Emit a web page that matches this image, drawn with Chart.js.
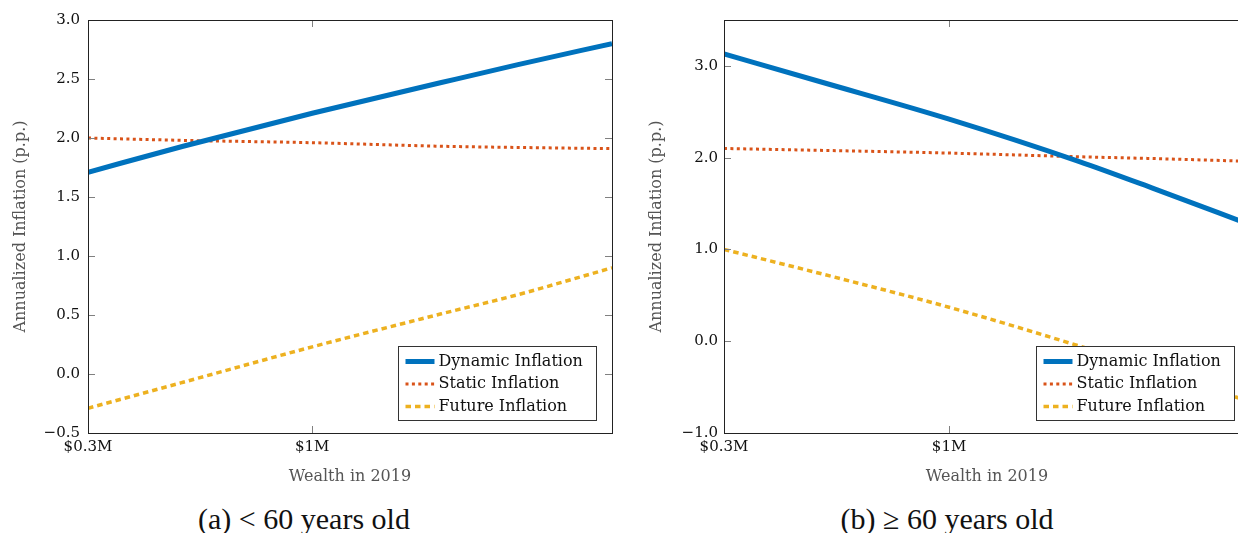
<!DOCTYPE html>
<html>
<head>
<meta charset="utf-8">
<script src="https://cdn.jsdelivr.net/npm/chart.js@4.4.1/dist/chart.umd.min.js"></script>
<style>
  body { margin: 0; width: 1238px; height: 533px; overflow: hidden; background: #fff; position: relative; }
  .panel { position: absolute; top: 0; height: 495px; }
  #young { left: 0; width: 625px; }
  #old { left: 640px; width: 620px; }
  .caption { position: absolute; top: 502px; width: 400px; text-align: center;
             font-family: 'Liberation Serif', serif; font-size: 30px; line-height: 34px; color: #111; }
</style>
</head>
<body>
<div class="panel" id="young"><canvas id="chartYoung"></canvas></div>
<div class="panel" id="old"><canvas id="chartOld"></canvas></div>
<div class="caption" style="left:104px">(a) &lt; 60 years old</div>
<div class="caption" style="left:747px">(b) ≥ 60 years old</div>

<script>
// wealth in 2019, $M (log axis)
const wealth = [0.3, 0.5, 1, 2, 3, 5];
const xTicks = [0.3, 1];
const xTickLabels = ['$0.3M', '$1M'];
const seriesNames = ['Dynamic Inflation', 'Static Inflation', 'Future Inflation'];

// (a) < 60 years old
const youngDynamic = [1.71, 1.93, 2.21, 2.47, 2.62, 2.80];
const youngStatic = [2.00, 1.98, 1.96, 1.93, 1.92, 1.91];
const youngFuture = [-0.29, -0.07, 0.23, 0.51, 0.67, 0.90];
const youngYTicks = [-0.5, 0, 0.5, 1.0, 1.5, 2.0, 2.5, 3.0];

// (b) >= 60 years old
const oldDynamic = [3.13, 2.83, 2.42, 1.96, 1.66, 1.27];
const oldStatic = [2.10, 2.08, 2.05, 2.01, 1.99, 1.96];
const oldFuture = [1.00, 0.74, 0.37, -0.05, -0.31, -0.66];
const oldYTicks = [-1.0, 0, 1.0, 2.0, 3.0];

Chart.defaults.font.family = "'DejaVu Serif', serif";
Chart.defaults.font.size = 15;
Chart.defaults.color = '#111';

const fmt = v => (v < 0 ? '\u2212' : '') + Math.abs(v).toFixed(1);

// box around the plot, inward tick marks on all four sides, legend inside the plot
const framePlugin = {
    id: 'frame',
    afterDatasetsDraw(chart) {
        const { ctx, chartArea: a, scales } = chart;
        ctx.save();
        ctx.strokeStyle = '#808080';
        ctx.lineWidth = 1;
        scales.y.ticks.forEach(t => {
            const y = Math.round(scales.y.getPixelForValue(t.value)) + 0.5;
            ctx.beginPath();
            ctx.moveTo(a.left, y); ctx.lineTo(a.left + 7, y);
            ctx.moveTo(a.right, y); ctx.lineTo(a.right - 7, y);
            ctx.stroke();
        });
        scales.x.ticks.forEach(t => {
            const x = Math.round(scales.x.getPixelForValue(t.value)) + 0.5;
            ctx.beginPath();
            ctx.moveTo(x, a.bottom); ctx.lineTo(x, a.bottom - 7);
            ctx.moveTo(x, a.top); ctx.lineTo(x, a.top + 7);
            ctx.stroke();
        });
        ctx.strokeStyle = '#222';
        ctx.strokeRect(Math.round(a.left) + 0.5, Math.round(a.top) + 0.5,
            Math.round(a.right - a.left), Math.round(a.bottom - a.top));

        // legend
        const w = 198, h = 74;
        const lx = Math.round(a.right - 16 - w) + 0.5;
        const ly = Math.round(a.bottom - 13 - h) + 0.5;
        ctx.fillStyle = '#fff';
        ctx.fillRect(lx, ly, w, h);
        ctx.strokeStyle = '#333';
        ctx.strokeRect(lx, ly, w, h);
        ctx.font = "16px 'DejaVu Serif', serif";
        ctx.textBaseline = 'middle';
        chart.data.datasets.forEach((ds, i) => {
            const ry = ly + 15 + i * 22.5;
            ctx.strokeStyle = ds.borderColor;
            ctx.lineWidth = ds.borderWidth;
            ctx.setLineDash(ds.borderDash || []);
            ctx.beginPath();
            ctx.moveTo(lx + 7, ry); ctx.lineTo(lx + 36, ry);
            ctx.stroke();
            ctx.setLineDash([]);
            ctx.fillStyle = '#111';
            ctx.fillText(ds.label, lx + 40, ry);
        });
        ctx.restore();
    }
};

const makeChart = (id, series, yMin, yMax, yTicks, cfg) => {
    const styles = [
        { borderColor: '#0072BD', borderWidth: 5, borderDash: [] },
        { borderColor: '#D95319', borderWidth: 3, borderDash: [3, 3.4] },
        { borderColor: '#EDB120', borderWidth: 3.5, borderDash: [5.5, 4] },
    ];
    const datasets = series.map((vals, i) => ({
        label: seriesNames[i],
        data: wealth.map((w, j) => ({ x: w, y: vals[j] })),
        pointRadius: 0,
        fill: false,
        borderCapStyle: 'butt',
        cubicInterpolationMode: 'monotone',
        ...styles[i],
    }));

    return new Chart(document.getElementById(id), {
        type: 'line',
        data: { datasets },
        options: {
            responsive: true,
            maintainAspectRatio: false,
            animation: false,
            layout: { padding: { left: 0, right: cfg.padRight, top: 20, bottom: 0 } },
            plugins: { legend: { display: false }, tooltip: { enabled: false } },
            scales: {
                x: {
                    type: 'logarithmic',
                    min: 0.3,
                    max: 5,
                    afterBuildTicks: s => { s.ticks = xTicks.map(v => ({ value: v })); },
                    afterFit: s => { s.height = 62; },
                    grid: { display: false, drawTicks: false },
                    border: { display: false },
                    ticks: {
                        padding: 5,
                        autoSkip: false,
                        maxRotation: 0,
                        callback: v => xTickLabels[xTicks.indexOf(v)],
                    },
                    title: {
                        display: true,
                        text: 'Wealth in 2019',
                        color: '#555',
                        font: { size: 16 },
                        padding: { top: 0, bottom: 9 },
                    },
                },
                y: {
                    min: yMin,
                    max: yMax,
                    afterBuildTicks: s => { s.ticks = yTicks.map(v => ({ value: v })); },
                    afterFit: s => { s.width = cfg.axisLeft; },
                    grid: { display: false, drawTicks: false },
                    border: { display: false },
                    ticks: { padding: cfg.tickPad, callback: fmt },
                    title: {
                        display: true,
                        text: 'Annualized Inflation (p.p.)',
                        color: '#555',
                        font: { size: 16 },
                        padding: { top: cfg.titlePad, bottom: 0 },
                    },
                },
            },
        },
        plugins: [framePlugin],
    });
};

makeChart('chartYoung', [youngDynamic, youngStatic, youngFuture], -0.5, 3.0, youngYTicks,
    { padRight: 13, axisLeft: 88, tickPad: 8, titlePad: 11 });
makeChart('chartOld', [oldDynamic, oldStatic, oldFuture], -1.0, 3.5, oldYTicks,
    { padRight: 10, axisLeft: 84, tickPad: 6, titlePad: 7 });
</script>
</body>
</html>
